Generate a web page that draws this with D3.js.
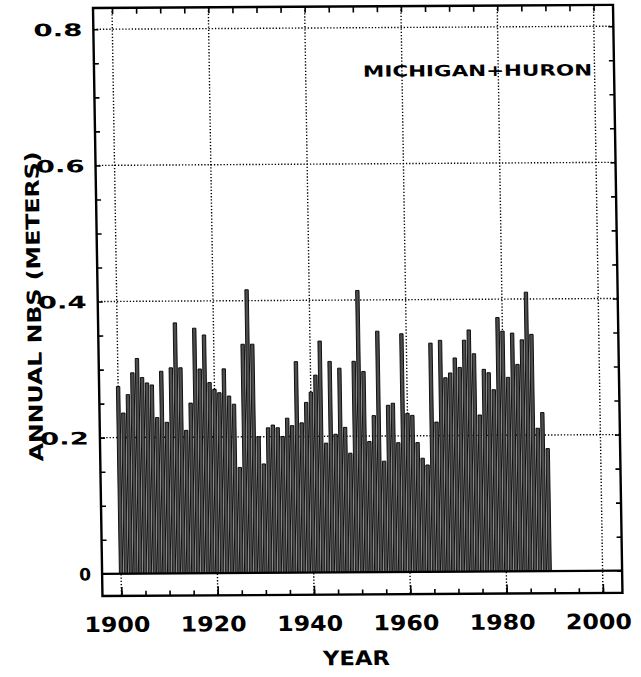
<!DOCTYPE html>
<html>
<head>
<meta charset="utf-8">
<script src="https://cdn.jsdelivr.net/npm/d3@7"></script>
<style>
  html, body { margin: 0; padding: 0; background: #fff; }
  svg { display: block; }
  text { font-family: "DejaVu Sans", sans-serif; font-weight: bold; fill: #000; }
</style>
</head>
<body>
<svg id="chart" width="641" height="677"></svg>
<script>
// Annual net basin supply, Lake Michigan-Huron
const years = [
  1900,1901,1902,1903,1904,1905,1906,1907,1908,1909,
  1910,1911,1912,1913,1914,1915,1916,1917,1918,1919,
  1920,1921,1922,1923,1924,1925,1926,1927,1928,1929,
  1930,1931,1932,1933,1934,1935,1936,1937,1938,1939,
  1940,1941,1942,1943,1944,1945,1946,1947,1948,1949,
  1950,1951,1952,1953,1954,1955,1956,1957,1958,1959,
  1960,1961,1962,1963,1964,1965,1966,1967,1968,1969,
  1970,1971,1972,1973,1974,1975,1976,1977,1978,1979,
  1980,1981,1982,1983,1984,1985,1986,1987,1988,1989
];
const nbs = [
  0.275,0.236,0.263,0.295,0.316,0.288,0.280,0.277,0.229,0.297,
  0.222,0.302,0.368,0.302,0.210,0.250,0.360,0.300,0.350,0.280,
  0.270,0.265,0.300,0.260,0.248,0.155,0.336,0.416,0.336,0.200,
  0.160,0.213,0.217,0.213,0.200,0.227,0.216,0.310,0.220,0.250,
  0.265,0.290,0.340,0.190,0.310,0.203,0.300,0.213,0.175,0.310,
  0.414,0.295,0.192,0.230,0.354,0.163,0.245,0.248,0.190,0.350,
  0.233,0.230,0.190,0.167,0.157,0.336,0.220,0.340,0.285,0.292,
  0.314,0.300,0.340,0.355,0.320,0.230,0.297,0.292,0.267,0.373,
  0.353,0.285,0.350,0.304,0.340,0.410,0.348,0.210,0.233,0.180
];

const xDomain = [1900, 2000];
const yDomain = [0, 0.8];
const xLabelYears = [1900, 1920, 1940, 1960, 1980, 2000];
const xMinorYears = [1900,1905,1910,1915,1920,1925,1930,1935,1940,1945,1950,
                     1955,1960,1965,1970,1975,1980,1985,1990,1995,2000];
const yLabelValues = [0, 0.2, 0.4, 0.6, 0.8];
const yLabelText = ["0", "0.2", "0.4", "0.6", "0.8"];
const yMinorValues = [0,0.05,0.1,0.15,0.2,0.25,0.3,0.35,0.4,0.45,0.5,0.55,0.6,0.65,0.7,0.75,0.8];
const titleText = "MICHIGAN+HURON";
const xTitle = "YEAR";
const yTitle = "ANNUAL NBS (METERS)";

// plot frame
const frame = { left: 93, right: 613, top: 8, bottom: 596 };

const svg = d3.select("#chart");
svg.append("rect").attr("width", 641).attr("height", 677).attr("fill", "#fff");

// the plotted sheet sits slightly sheared on the page
const sx = 0.0161, sy = -0.006;
const g = svg.append("g")
  .attr("transform", `matrix(1,${sy},${sx},1,${-sx * frame.top},${-sy * frame.left})`);

const x = d3.scaleLinear().domain(xDomain).range([112, 593.5]);
const y = d3.scaleLinear().domain(yDomain).range([573.8, 29.3]);

const dotted = "1.3,1.9";

// dotted grid
g.append("g").selectAll("line").data(xLabelYears).join("line")
  .attr("x1", d => x(d)).attr("x2", d => x(d))
  .attr("y1", frame.top).attr("y2", frame.bottom)
  .attr("stroke", "#000").attr("stroke-width", 1.4)
  .attr("stroke-dasharray", dotted);
g.append("g").selectAll("line").data(yLabelValues.filter(v => v > 0)).join("line")
  .attr("x1", frame.left).attr("x2", frame.right)
  .attr("y1", d => y(d)).attr("y2", d => y(d))
  .attr("stroke", "#000").attr("stroke-width", 1.4)
  .attr("stroke-dasharray", dotted);

// bars
const barW = 3.4;
g.append("g").selectAll("rect").data(years).join("rect")
  .attr("x", (d) => x(d) - barW / 2)
  .attr("width", barW)
  .attr("y", (d, i) => y(nbs[i]))
  .attr("height", (d, i) => y(0) - y(nbs[i]))
  .attr("fill", "#4d4d4d")
  .attr("stroke", "#000")
  .attr("stroke-width", 0.9);

// zero line
g.append("line")
  .attr("x1", frame.left).attr("x2", frame.right)
  .attr("y1", y(0)).attr("y2", y(0))
  .attr("stroke", "#000").attr("stroke-width", 2.2);

// frame
g.append("rect")
  .attr("x", frame.left).attr("y", frame.top)
  .attr("width", frame.right - frame.left).attr("height", frame.bottom - frame.top)
  .attr("fill", "none").attr("stroke", "#000").attr("stroke-width", 2.4);

function cleanAxis(sel) {
  sel.select(".domain").remove();
  sel.selectAll(".tick line").attr("stroke", "#000").attr("stroke-width", 1.6);
}

// inward ticks on all four sides
g.append("g").attr("transform", `translate(0,${frame.bottom})`)
  .call(d3.axisTop(x).tickValues(xMinorYears).tickSize(5).tickFormat(""))
  .call(cleanAxis);
g.append("g").attr("transform", `translate(0,${frame.bottom})`)
  .call(d3.axisTop(x).tickValues(xLabelYears).tickSize(9).tickFormat(""))
  .call(cleanAxis);
g.append("g").attr("transform", `translate(0,${frame.top})`)
  .call(d3.axisBottom(x).tickValues(xMinorYears).tickSize(6).tickFormat(""))
  .call(cleanAxis);
g.append("g").attr("transform", `translate(${frame.left},0)`)
  .call(d3.axisRight(y).tickValues(yMinorValues).tickSize(5).tickFormat(""))
  .call(cleanAxis);
g.append("g").attr("transform", `translate(${frame.right},0)`)
  .call(d3.axisLeft(y).tickValues(yMinorValues).tickSize(5).tickFormat(""))
  .call(cleanAxis);

// x tick labels
const xl = g.append("g").attr("transform", `translate(0,${frame.bottom})`)
  .call(d3.axisBottom(x).tickValues(xLabelYears).tickSize(0).tickFormat(d3.format("d")));
xl.select(".domain").remove();
xl.selectAll(".tick text")
  .attr("x", -5).attr("y", 36).attr("dy", 0)
  .attr("font-size", 21).attr("font-family", "DejaVu Sans").attr("font-weight", "bold")
  .attr("text-anchor", "middle")
  .attr("textLength", 66).attr("lengthAdjust", "spacingAndGlyphs");

// y tick labels
const yl = g.append("g").attr("transform", `translate(${frame.left},0)`)
  .call(d3.axisLeft(y).tickValues(yLabelValues).tickSize(0)
    .tickFormat((d, i) => yLabelText[i]));
yl.select(".domain").remove();
yl.selectAll(".tick text")
  .attr("x", -11).attr("dy", "0.36em")
  .attr("font-size", 17).attr("font-family", "DejaVu Sans").attr("font-weight", "bold")
  .attr("text-anchor", "end")
  .each(function(d) {
    if (d !== 0) d3.select(this).attr("textLength", 49).attr("lengthAdjust", "spacingAndGlyphs");
  });

// lake name
g.append("text")
  .attr("x", 362).attr("y", 78.3)
  .attr("font-size", 15.5)
  .attr("textLength", 229).attr("lengthAdjust", "spacingAndGlyphs")
  .text(titleText);

// axis titles
g.append("text")
  .attr("x", 346).attr("y", 666.6)
  .attr("text-anchor", "middle")
  .attr("font-size", 20)
  .attr("textLength", 67).attr("lengthAdjust", "spacingAndGlyphs")
  .text(xTitle);

g.append("text")
  .attr("transform", "translate(36,306) rotate(-90)")
  .attr("text-anchor", "middle")
  .attr("font-size", 19)
  .attr("textLength", 310).attr("lengthAdjust", "spacingAndGlyphs")
  .text(yTitle);
</script>
</body>
</html>
